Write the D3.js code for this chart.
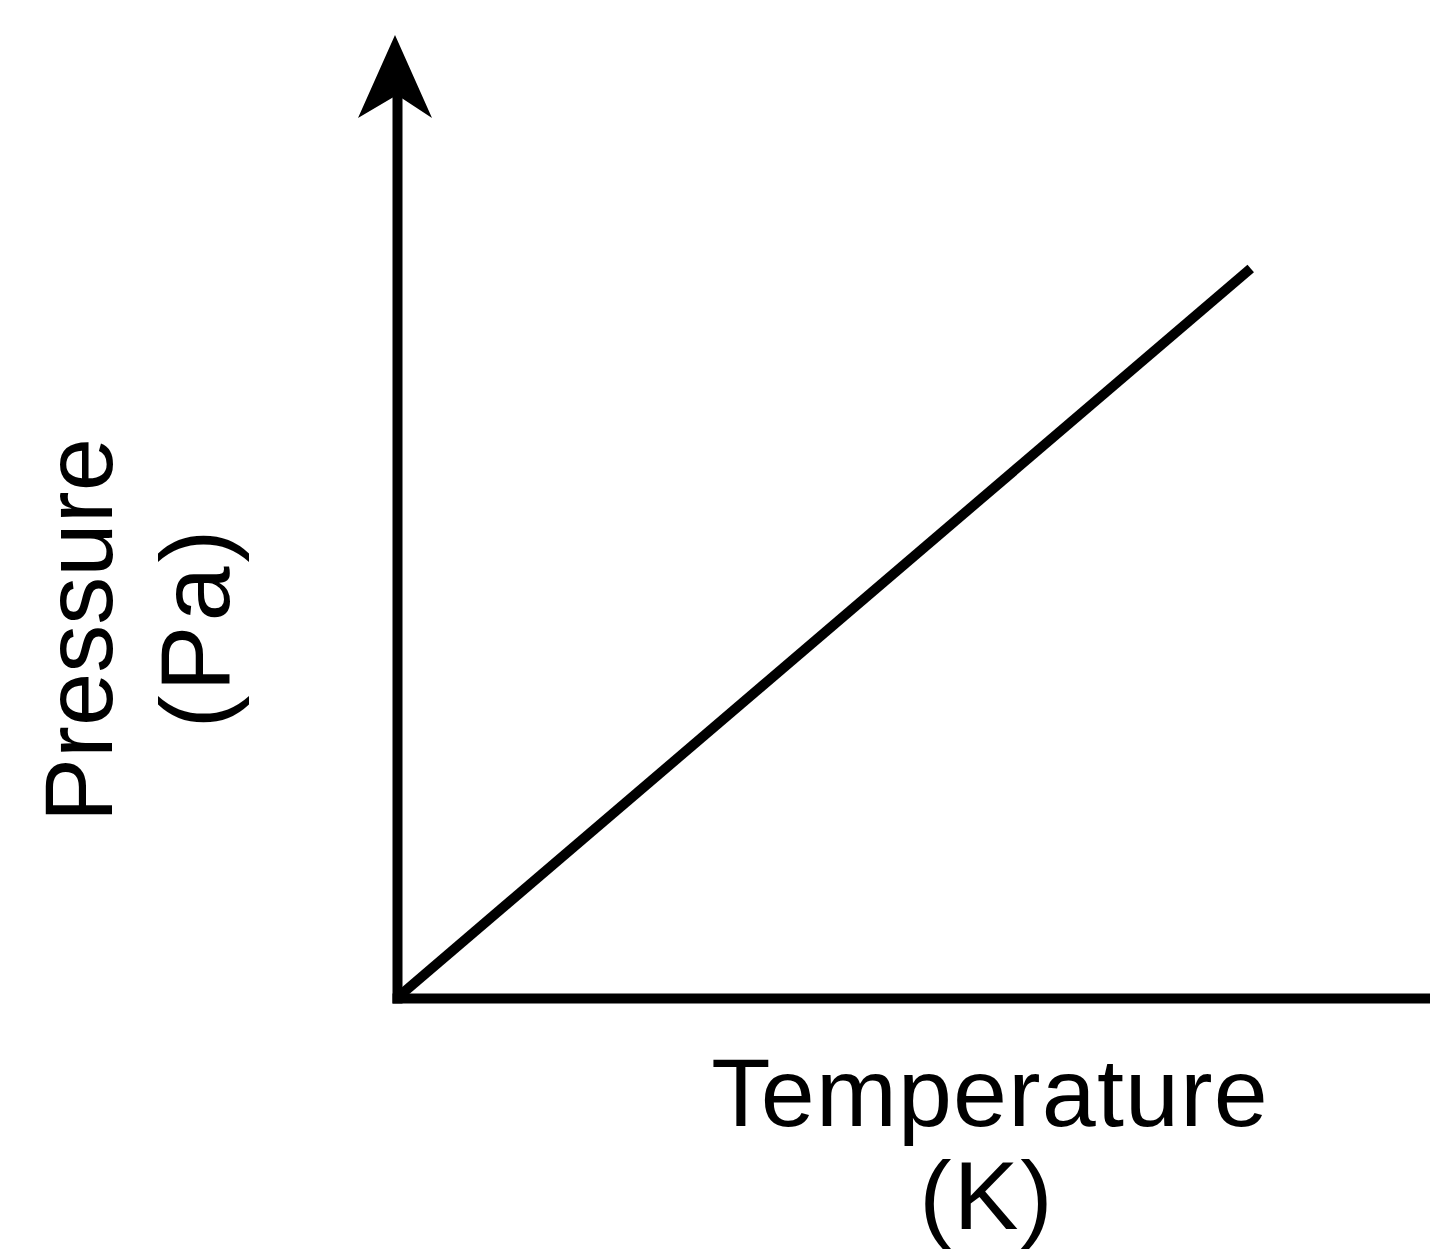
<!DOCTYPE html>
<html>
<head>
<meta charset="utf-8">
<script src="https://cdn.jsdelivr.net/npm/d3@7"></script>
<style>
  body { margin: 0; background: #fff; }
  text { font-family: "Liberation Sans", Arial, sans-serif; fill: #000; }
</style>
</head>
<body>
<svg id="mainSvg"></svg>
<script>
var WIDTH = 1430;
var HEIGHT = 1254;

// unlabeled axes, so the units are arbitrary: P grows in proportion to T
var TEMPERATURE = [0, 400];
var PRESSURE = [0, 300];
var X_LABEL = ["Temperature", "(K)"];
var Y_LABEL = ["Pressure", "(Pa)"];

var ORIGIN_X = 397;
var ORIGIN_Y = 998;
var AXIS_TOP = 35;

var x = d3.scaleLinear().domain([0, 484]).range([ORIGIN_X, WIDTH]);
var y = d3.scaleLinear().domain([0, 396]).range([ORIGIN_Y, AXIS_TOP]);

var svg = d3.select("#mainSvg")
  .attr("width", WIDTH)
  .attr("height", HEIGHT);

// axes: only the domain lines, no ticks
svg.append("g")
  .attr("transform", "translate(" + ORIGIN_X + ",0)")
  .call(d3.axisLeft(y.copy().range([ORIGIN_Y, AXIS_TOP + 55])).ticks(0).tickSizeOuter(0));
svg.append("g")
  .attr("transform", "translate(0," + ORIGIN_Y + ")")
  .call(d3.axisBottom(x).ticks(0).tickSizeOuter(0));

svg.selectAll(".domain")
  .attr("stroke", "#000")
  .attr("stroke-width", 10)
  .attr("stroke-linecap", "square");

// arrow head on top of the pressure axis
var tip = y.range()[1];
svg.append("path")
  .attr("d", [
    "M", ORIGIN_X - 2, tip,
    "L", ORIGIN_X + 35, tip + 83,
    "L", ORIGIN_X, tip + 60,
    "L", ORIGIN_X - 39, tip + 83,
    "Z"
  ].join(" "))
  .attr("fill", "#000");

// the line
var pts = TEMPERATURE.map(function (t, i) { return [t, PRESSURE[i]]; });
svg.append("path")
  .datum(pts)
  .attr("d", d3.line()
    .x(function (d) { return x(d[0]); })
    .y(function (d) { return y(d[1]); }))
  .attr("fill", "none")
  .attr("stroke", "#000")
  .attr("stroke-width", 10)
  .attr("stroke-linecap", "butt");

// axis titles
svg.append("text")
  .attr("x", 990)
  .attr("y", 1126)
  .attr("text-anchor", "middle")
  .attr("font-size", 97)
  .attr("letter-spacing", 1.2)
  .text(X_LABEL[0]);
svg.append("text")
  .attr("x", 987)
  .attr("y", 1229)
  .attr("text-anchor", "middle")
  .attr("font-size", 97)
  .attr("letter-spacing", 2)
  .text(X_LABEL[1]);

svg.append("text")
  .attr("transform", "translate(112,630) rotate(-90)")
  .attr("text-anchor", "middle")
  .attr("font-size", 96)
  .text(Y_LABEL[0]);
svg.append("text")
  .attr("transform", "translate(229,627) rotate(-90)")
  .attr("text-anchor", "middle")
  .attr("font-size", 99)
  .attr("letter-spacing", 4)
  .text(Y_LABEL[1]);
</script>
</body>
</html>
